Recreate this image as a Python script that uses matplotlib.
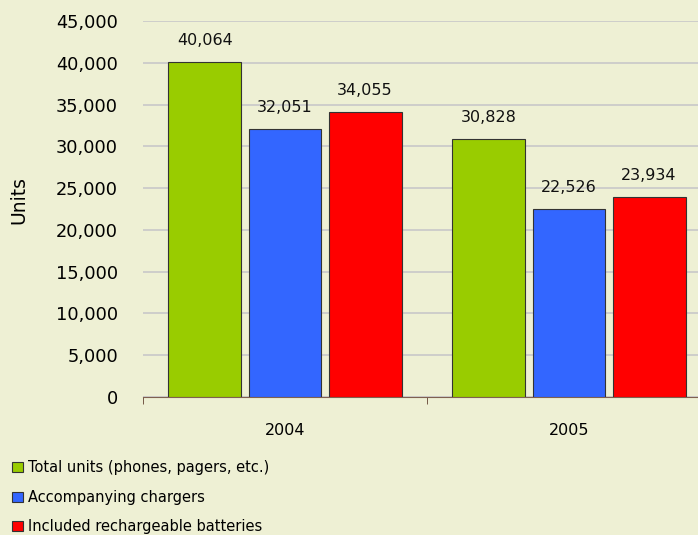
import numpy as np
import matplotlib
matplotlib.use("Agg")
import matplotlib.pyplot as plt
from matplotlib.patches import Patch

years = ["2004", "2005"]
series = ["Total units (phones, pagers, etc.)",
          "Accompanying chargers",
          "Included rechargeable batteries"]
total_units = [40064, 30828]
chargers = [32051, 22526]
batteries = [34055, 23934]
colors = ["#99CC00", "#3366FF", "#FF0000"]

bg = "#EEF0D4"
fig = plt.figure(figsize=(6.98, 5.35), dpi=100, facecolor=bg)
# axes run past the right edge, as in the reference
ax = fig.add_axes([143 / 698, 138 / 535, 568 / 698, 376 / 535], facecolor=bg)

x = np.arange(len(years))
width = 0.257
step = 0.282
for i, (vals, c) in enumerate(zip([total_units, chargers, batteries], colors)):
    bars = ax.bar(x + (i - 1) * step, vals, width, color=c,
                  edgecolor="#333333", linewidth=0.8, zorder=3)
    for b, v in zip(bars, vals):
        ax.text(b.get_x() + b.get_width() / 2, v + 1700, f"{v:,}",
                ha="center", va="bottom", fontsize=11.5, color="#111111")

ax.set_xlim(-0.5, 1.5)
ax.set_ylim(0, 45000)
ax.set_yticks(np.arange(0, 45001, 5000))
ax.set_yticklabels([f"{t:,}" for t in range(0, 45001, 5000)], fontsize=12.8)
ax.yaxis.grid(True, color="#C8C8C8", linewidth=1.2, zorder=0)
ax.tick_params(axis="y", length=0, pad=18)

ax.set_xticks(x)
ax.set_xticklabels(years, fontsize=11.5)
ax.set_xticks([-0.5, 0.5, 1.5], minor=True)
ax.tick_params(axis="x", which="major", length=0, pad=19)
ax.tick_params(axis="x", which="minor", length=5, color="#604030", direction="out")

for s in ["top", "right", "left"]:
    ax.spines[s].set_visible(False)
ax.spines["bottom"].set_color("#7F6050")

ax.set_ylabel("Units", fontsize=13.5)
ax.yaxis.set_label_coords(-0.2025, 0.524)

handles = [Patch(facecolor=c, edgecolor="#333333", linewidth=0.8) for c in colors]
fig.legend(handles, series, loc="lower left", bbox_to_anchor=(0.003, -0.018),
           frameon=False, fontsize=10.5, handlelength=0.7, handleheight=0.7,
           handletextpad=0.4, labelspacing=1.0, borderaxespad=0.3)

fig.savefig("out.png", dpi=100, facecolor=bg)
